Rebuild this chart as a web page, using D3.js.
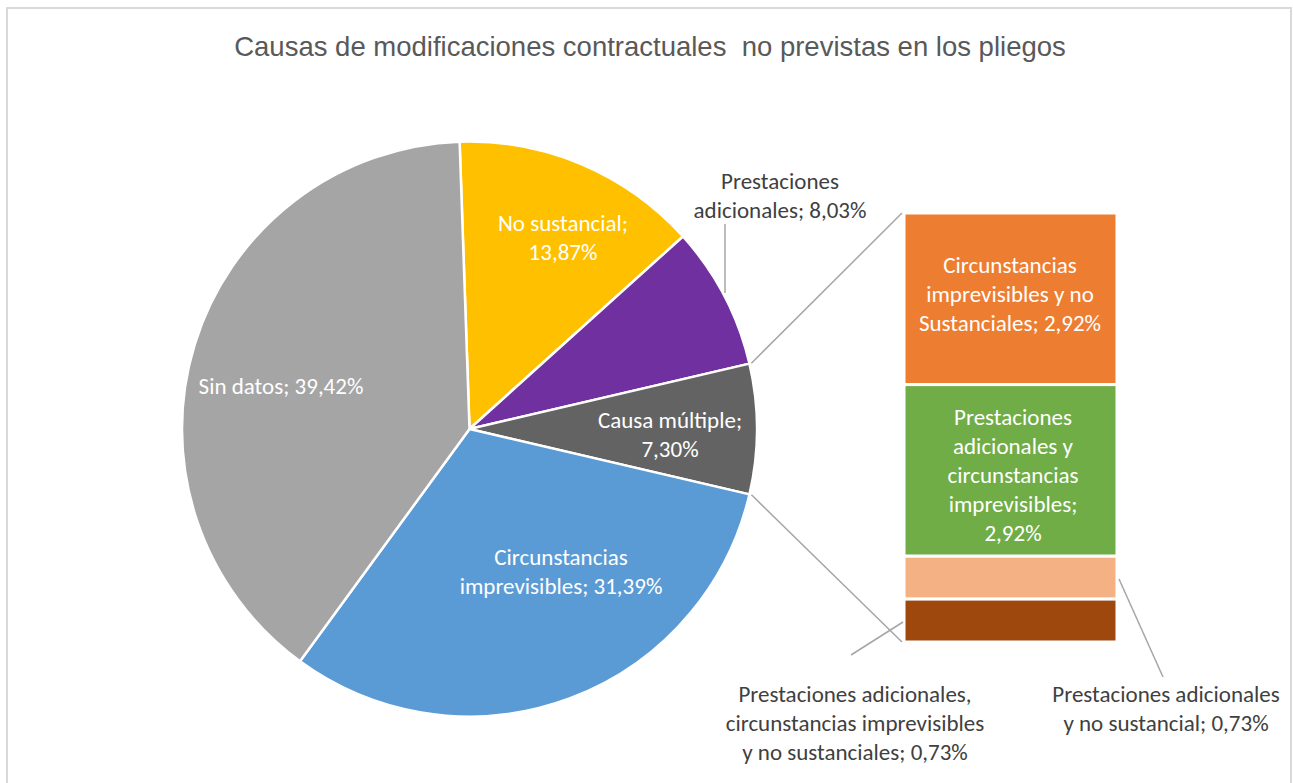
<!DOCTYPE html>
<html>
<head>
<meta charset="utf-8">
<script src="https://cdn.jsdelivr.net/npm/d3@7"></script>
<style>
  body { margin: 0; background: #fff; }
  svg { display: block; }
</style>
</head>
<body>
<svg id="chart" width="1293" height="783"></svg>
<script>
const pieNames = ["No sustancial", "Prestaciones adicionales", "Causa múltiple", "Circunstancias imprevisibles", "Sin datos"];
const pieValues = [13.87, 8.03, 7.30, 31.39, 39.42];
const pieColors = ["#FFC000", "#7030A0", "#636363", "#5B9BD5", "#A5A5A5"];

const barNames = ["Circunstancias imprevisibles y no Sustanciales", "Prestaciones adicionales y circunstancias imprevisibles",
  "Prestaciones adicionales y no sustancial", "Prestaciones adicionales, circunstancias imprevisibles y no sustanciales"];
const barValues = [2.92, 2.92, 0.73, 0.73];
const barColors = ["#ED7D31", "#70AD47", "#F4B183", "#9E480E"];

const title = "Causas de modificaciones contractuales  no previstas en los pliegos";
const otherIndex = 2;

const labelFont = "Carlito, Calibri, Lato, sans-serif";
const fmt = v => v.toFixed(2).replace(".", ",") + "%";

const svg = d3.select("#chart");

// outer chart border
svg.append("rect")
  .attr("x", 7).attr("y", 8)
  .attr("width", 1284).attr("height", 800)
  .attr("fill", "#fff")
  .attr("stroke", "#d9d9d9").attr("stroke-width", 2);

svg.append("text")
  .attr("x", 650).attr("y", 56)
  .attr("text-anchor", "middle")
  .attr("font-family", "Liberation Sans, Arial, sans-serif")
  .attr("font-size", 27.5)
  .attr("fill", "#595959")
  .style("white-space", "pre")
  .text(title);

// pie, rotated so the "other" slice sits centred at 3 o'clock
const cx = 469.5, cy = 429, r = 287.5;
const total = d3.sum(pieValues);
const before = d3.sum(pieValues.slice(0, otherIndex)) + pieValues[otherIndex] / 2;
const start = Math.PI / 2 - before / total * 2 * Math.PI;

const pie = d3.pie().sort(null).value(d => d).startAngle(start).endAngle(start + 2 * Math.PI);
const arcs = pie(pieValues);
const arc = d3.arc().innerRadius(0).outerRadius(r);

const g = svg.append("g").attr("transform", `translate(${cx},${cy})`);
g.selectAll("path.slice")
  .data(arcs)
  .enter()
  .append("path")
  .attr("class", "slice")
  .attr("d", arc)
  .attr("fill", (d, i) => pieColors[i])
  .attr("stroke", "#fff")
  .attr("stroke-width", 2.5)
  .attr("stroke-linejoin", "round");

// bar of pie
const barX = 904, barW = 213;
const y = d3.scaleLinear().domain([0, d3.sum(barValues)]).range([213, 642]);
const cum = d3.cumsum(barValues);
const barData = barValues.map((v, i) => ({ v, y0: i ? cum[i - 1] : 0, y1: cum[i], i }));

svg.selectAll("rect.seg")
  .data(barData)
  .enter()
  .append("rect")
  .attr("class", "seg")
  .attr("x", barX)
  .attr("y", d => y(d.y0))
  .attr("width", barW)
  .attr("height", d => y(d.y1) - y(d.y0))
  .attr("fill", d => barColors[d.i])
  .attr("stroke", "#fff")
  .attr("stroke-width", 3);

// connector lines from the "other" slice to the bar
const oa = arcs[otherIndex];
const pt = a => [cx + (r + 2) * Math.sin(a), cy - (r + 2) * Math.cos(a)];
const p0 = pt(oa.startAngle), p1 = pt(oa.endAngle);
const lineColor = "#a6a6a6";
svg.append("line")
  .attr("x1", p0[0]).attr("y1", p0[1])
  .attr("x2", barX - 2).attr("y2", y(0))
  .attr("stroke", lineColor).attr("stroke-width", 1.5);
svg.append("line")
  .attr("x1", p1[0]).attr("y1", p1[1])
  .attr("x2", barX - 2).attr("y2", y(d3.sum(barValues)))
  .attr("stroke", lineColor).attr("stroke-width", 1.5);

// leader lines
const leaders = [
  [725, 224, 725, 293],
  [1119, 579, 1163, 677],
  [903, 622, 851, 655]
];
svg.selectAll("line.leader")
  .data(leaders)
  .enter()
  .append("line")
  .attr("class", "leader")
  .attr("x1", d => d[0]).attr("y1", d => d[1])
  .attr("x2", d => d[2]).attr("y2", d => d[3])
  .attr("stroke", lineColor).attr("stroke-width", 1.5);

// data labels
function label(lines, x, yMid, color) {
  const lh = 29;
  const t = svg.append("text")
    .attr("text-anchor", "middle")
    .attr("font-family", labelFont)
    .attr("font-size", 23)
    .attr("fill", color);
  const y0 = yMid - (lines.length - 1) * lh / 2;
  lines.forEach((s, k) => {
    t.append("tspan").attr("x", x).attr("y", y0 + k * lh).attr("dy", "0.35em").text(s);
  });
}

const white = "#ffffff", dark = "#404040";
label([pieNames[4] + "; " + fmt(pieValues[4])], 281, 386, white);
label([pieNames[0] + ";", fmt(pieValues[0])], 563, 237, white);
label(["Prestaciones", "adicionales; " + fmt(pieValues[1])], 780, 195, dark);
label([pieNames[2] + ";", fmt(pieValues[2])], 670, 434, white);
label(["Circunstancias", "imprevisibles; " + fmt(pieValues[3])], 561, 571, white);

label(["Circunstancias", "imprevisibles y no", "Sustanciales; " + fmt(barValues[0])], 1010, 294, white);
label(["Prestaciones", "adicionales y", "circunstancias", "imprevisibles;", fmt(barValues[1])], 1013, 475, white);
label(["Prestaciones adicionales", "y no sustancial; " + fmt(barValues[2])], 1166, 708, dark);
label(["Prestaciones adicionales,", "circunstancias imprevisibles", "y no sustanciales; " + fmt(barValues[3])], 855, 723, dark);
</script>
</body>
</html>
